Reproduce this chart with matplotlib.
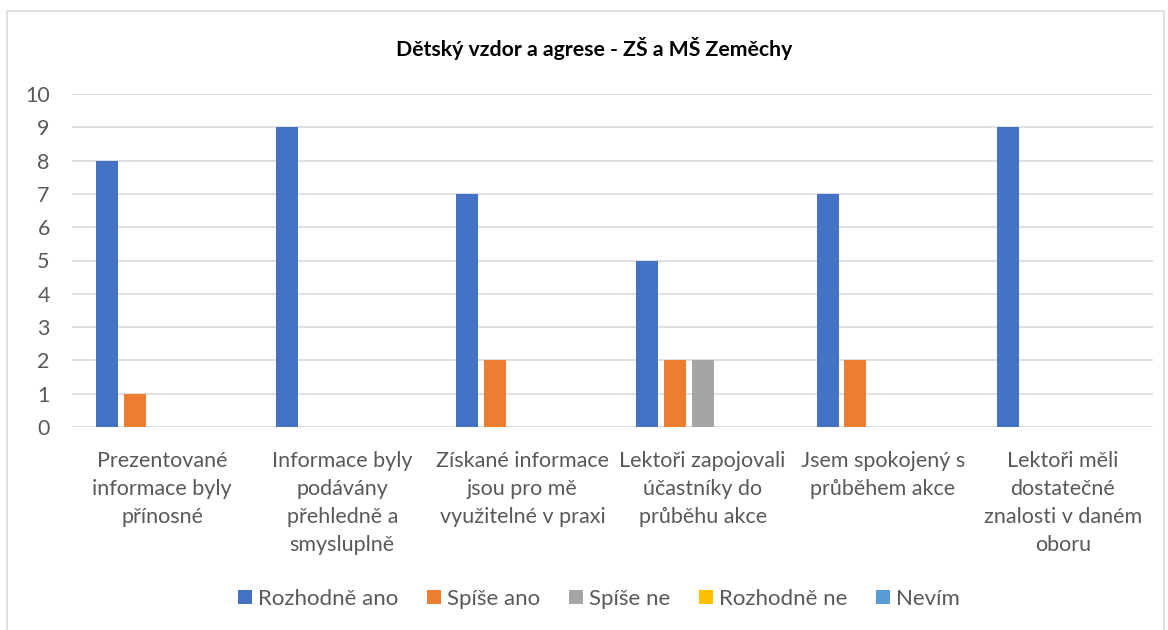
import matplotlib.pyplot as plt
import matplotlib.patches as mpatches
import numpy as np

plt.rcParams['font.family'] = ['Lato', 'DejaVu Sans']

categories = ["Prezentované\ninformace byly\npřínosné",
              "Informace byly\npodávány\npřehledně a\nsmysluplně",
              "Získané informace\njsou pro mě\nvyužitelné v praxi",
              "Lektoři zapojovali\núčastníky do\nprůběhu akce",
              "Jsem spokojený s\nprůběhem akce",
              "Lektoři měli\ndostatečné\nznalosti v daném\noboru"]
series_names = ["Rozhodně ano", "Spíše ano", "Spíše ne", "Rozhodně ne", "Nevím"]
rozhodne_ano = [8, 9, 7, 5, 7, 9]
spise_ano = [1, 0, 2, 2, 2, 0]
spise_ne = [0, 0, 0, 2, 0, 0]
rozhodne_ne = [0, 0, 0, 0, 0, 0]
nevim = [0, 0, 0, 0, 0, 0]
colors = ["#4472C4", "#ED7D31", "#A5A5A5", "#FFC000", "#5B9BD5"]

all_series = [rozhodne_ano, spise_ano, spise_ne, rozhodne_ne, nevim]
text_col = "#595959"

fig = plt.figure(figsize=(11.68, 6.3), dpi=100)
ax = fig.add_axes([72/1168, 1-427/630, (1153-72)/1168, (427-94)/630])

# chart frame
fig.patches.append(mpatches.Rectangle((7/1168, -0.05), (1164-7)/1168, 1.05 - 11/630,
                                      transform=fig.transFigure, fill=False,
                                      edgecolor="#D9D9D9", linewidth=1.2))

x = np.arange(len(categories))
step = 0.153
width = 0.122
for j, (vals, name, c) in enumerate(zip(all_series, series_names, colors)):
    ax.bar(x + (j - 2) * step, vals, width, color=c, label=name, zorder=3)

ax.set_xlim(-0.5, len(categories) - 0.5)
ax.set_ylim(0, 10)
ax.set_yticks(range(0, 11))
ax.yaxis.grid(True, color="#D9D9D9", linewidth=1.2, zorder=0)
for s in ax.spines.values():
    s.set_visible(False)
ax.tick_params(axis='both', length=0, colors=text_col, labelsize=15.5)
ax.tick_params(axis='y', pad=16)
ax.tick_params(axis='x', pad=17)
ax.set_xticks(x)
ax.set_xticklabels(categories, linespacing=1.5)

fig.text(594/1168, 1-48/630, "Dětský vzdor a agrese - ZŠ a MŠ Zeměchy",
         ha='center', va='center', fontsize=15.3, fontweight='bold', color='black')

fig.legend(loc='center', bbox_to_anchor=(599/1168, 1-599/630), ncol=5, frameon=False,
           fontsize=16, labelcolor=text_col, handlelength=0.63, handleheight=0.63,
           handletextpad=0.27, columnspacing=1.3)

fig.savefig("out.png", dpi=100)
